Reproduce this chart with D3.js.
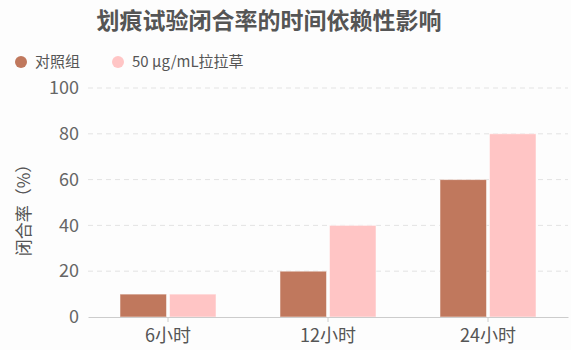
<!DOCTYPE html>
<html>
<head>
<meta charset="utf-8">
<script src="https://cdn.jsdelivr.net/npm/d3@7"></script>
<style>
  body { margin: 0; background: #fdfdfd; }
  svg { display: block; font-family: "Noto Sans CJK SC", "Noto Sans", sans-serif; }
</style>
</head>
<body>
<svg id="chart" width="571" height="350"></svg>
<script>
const categories = ['6小时', '12小时', '24小时'];
const seriesNames = ['对照组', '50 μg/mL拉拉草'];
const controlValues = [10, 20, 60];
const treatedValues = [10, 40, 80];
const yTicks = [0, 20, 40, 60, 80, 100];
const colors = ['#c0785d', '#ffc5c5'];

(function() {
    var svg = d3.select('#chart');
    var left = 88, right = 568, top = 88, bottom = 317;

    var x = d3.scaleBand().domain(categories).range([left, right]).paddingInner(0.4).paddingOuter(0.2);
    var xSub = d3.scaleBand().domain([0, 1]).range([0, x.bandwidth()]).paddingInner(0.06);
    var y = d3.scaleLinear().domain([0, 100]).range([bottom, top]);

    // title
    svg.append('text')
    .attr('x', 269).attr('y', 29)
    .attr('text-anchor', 'middle')
    .style('font-size', '23px')
    .style('font-weight', 'bold')
    .style('fill', '#555')
    .text('划痕试验闭合率的时间依赖性影响');

    // legend
    var legendX = [21, 118];
    seriesNames.forEach(function(name, i) {
        svg.append('circle')
        .attr('cx', legendX[i]).attr('cy', 62).attr('r', 6)
        .style('fill', colors[i]);
        svg.append('text')
        .attr('x', legendX[i] + 14).attr('y', 67)
        .style('font-size', '15px')
        .style('fill', '#555')
        .text(name);
    });

    // grid
    svg.append('g').selectAll('line')
    .data(yTicks.filter(function(d) { return d > 0; }))
    .join('line')
    .attr('x1', left).attr('x2', right)
    .attr('y1', function(d) { return y(d); })
    .attr('y2', function(d) { return y(d); })
    .style('stroke', '#e3e3e3')
    .style('stroke-dasharray', '5,4');

    // y axis
    var yAxis = svg.append('g')
    .attr('transform', 'translate(' + left + ',0)')
    .call(d3.axisLeft(y).tickValues(yTicks).tickSize(0).tickPadding(9));
    yAxis.select('.domain').remove();
    yAxis.selectAll('text').style('font-size', '18px').style('fill', '#666').style('font-family', '"Noto Sans CJK SC", sans-serif');

    // y label
    svg.append('text')
    .attr('transform', 'translate(30,' + 206 + ') rotate(-90)')
    .attr('text-anchor', 'middle')
    .style('font-size', '17px')
    .style('fill', '#555')
    .text('闭合率（%）');

    // bars
    var groups = svg.append('g').selectAll('g')
    .data(categories)
    .join('g')
    .attr('transform', function(d) { return 'translate(' + x(d) + ',0)'; });

    groups.selectAll('rect')
    .data(function(d, i) { return [controlValues[i], treatedValues[i]]; })
    .join('rect')
    .attr('x', function(d, j) { return xSub(j); })
    .attr('width', xSub.bandwidth())
    .attr('y', function(d) { return y(d); })
    .attr('height', function(d) { return bottom - y(d); })
    .style('fill', function(d, j) { return colors[j]; })
    .style('stroke', '#fff')
    .style('stroke-opacity', 0.5)
    .style('stroke-width', 1);

    // x axis
    var xAxis = svg.append('g')
    .attr('transform', 'translate(0,' + bottom + ')')
    .call(d3.axisBottom(x).tickSize(5).tickPadding(7).tickSizeOuter(0));
    xAxis.select('.domain').style('stroke', '#ccc');
    xAxis.selectAll('.tick line').style('stroke', '#ccc');
    xAxis.selectAll('text').style('font-size', '18px').style('fill', '#555').style('font-family', '"Noto Sans CJK SC", sans-serif');
})();
</script>
</body>
</html>
